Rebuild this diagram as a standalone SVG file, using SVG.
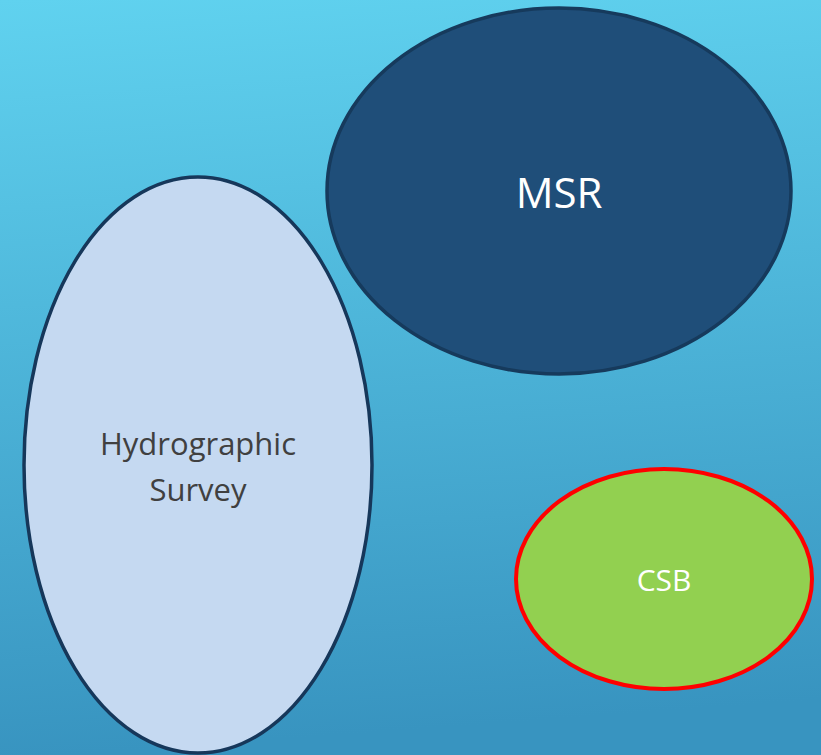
<svg xmlns="http://www.w3.org/2000/svg" width="821" height="755" viewBox="0 0 821 755">
<defs>
<linearGradient id="bg" x1="0" y1="0" x2="0.08" y2="1">
<stop offset="0" stop-color="#60d2ef"/>
<stop offset="1" stop-color="#3894c0"/>
</linearGradient>
<style>
text{font-family:"Open Sans","Noto Sans",sans-serif;text-anchor:middle}
</style>
</defs>
<rect width="821" height="755" fill="url(#bg)"/>
<g id="msr">
<ellipse cx="559" cy="191" rx="232" ry="183" fill="#1f4e79" stroke="#163a5c" stroke-width="3.5"/>
<text x="559" y="208" font-size="42" fill="#ffffff">MSR</text>
</g>
<g id="hydrographic-survey">
<ellipse cx="198" cy="465" rx="174" ry="288" fill="#c5d9f1" stroke="#16375a" stroke-width="3.5"/>
<text x="198" y="455" font-size="31" fill="#404040">Hydrographic</text>
<text x="198" y="501" font-size="31" fill="#404040">Survey</text>
</g>
<g id="csb">
<ellipse cx="664" cy="579" rx="148" ry="110" fill="#92d050" stroke="#ff0000" stroke-width="4"/>
<text x="664" y="591" font-size="30" fill="#ffffff">CSB</text>
</g>
<g id="connectors"/>
</svg>
